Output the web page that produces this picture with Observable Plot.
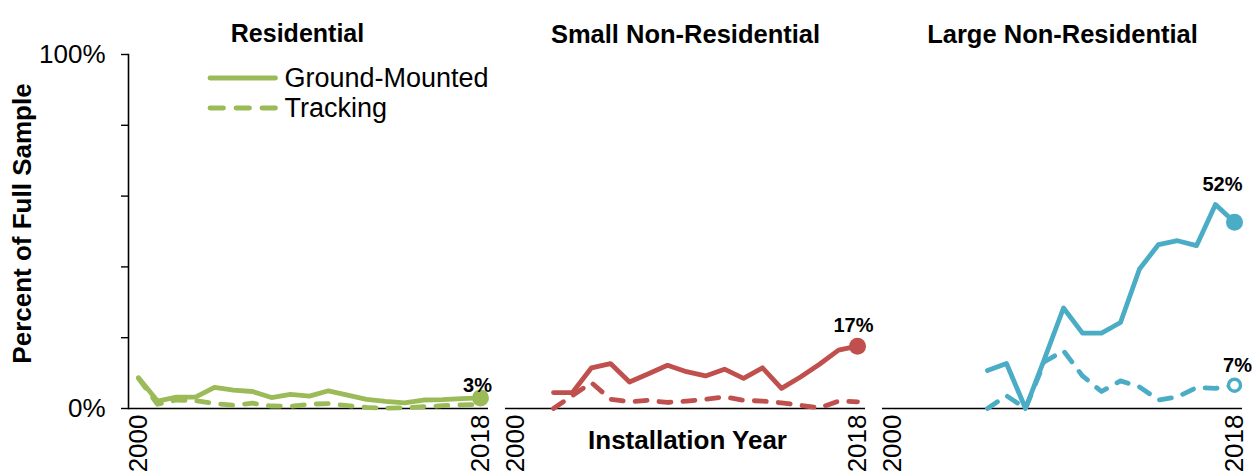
<!DOCTYPE html>
<html><head><meta charset="utf-8">
<script src="https://cdn.jsdelivr.net/npm/d3@7"></script>
<script src="https://cdn.jsdelivr.net/npm/@observablehq/plot@0.6"></script>
<style>html,body{margin:0;padding:0;background:#fff;} svg{display:block;}</style>
</head><body><div id="chart"></div>
<script>
const panels = ["Residential", "Small Non-Residential", "Large Non-Residential"];
const panelColors = ["#9BBB59", "#C0504D", "#4BACC6"];
const seriesNames = ["Ground-Mounted", "Tracking"];
const years = [2000, 2001, 2002, 2003, 2004, 2005, 2006, 2007, 2008, 2009, 2010, 2011, 2012, 2013, 2014, 2015, 2016, 2017, 2018];
const xTickYears = [2000, 2018];
const yTicks = [0, 20, 40, 60, 80, 100];
const yTickLabels = ["0%", "", "", "", "", "100%"];

// Residential: 2000-2018
const residentialGround = [8.7, 2.1, 3.2, 3.2, 6.0, 5.2, 4.8, 3.1, 4.0, 3.5, 5.0, 3.8, 2.6, 2.0, 1.6, 2.4, 2.5, 2.8, 3.0];
const residentialTracking = [8.5, 1.2, 2.4, 2.2, 1.4, 0.9, 1.5, 0.7, 0.6, 1.2, 1.4, 0.8, 0.3, 0.1, 0.2, 0.5, 0.8, 1.0, 1.2];
// Small Non-Residential: 2002-2018
const smallGround = [4.5, 4.5, 11.5, 12.7, 7.5, 9.8, 12.2, 10.4, 9.2, 11.1, 8.5, 11.5, 5.7, 8.9, 12.5, 16.5, 17.6];
const smallTracking = [0.0, 3.7, 7.3, 2.6, 1.9, 2.3, 1.7, 2.1, 2.6, 3.3, 2.3, 2.1, 1.6, 0.9, 0.2, 2.1, 1.9];
// Large Non-Residential: 2005-2018
const largeGround = [10.7, 12.7, 0.0, 14.0, 28.4, 21.3, 21.3, 24.3, 39.4, 46.3, 47.4, 46.0, 57.6, 52.6];
const largeTracking = [0.0, 3.6, 0.0, 13.2, 16.3, 9.2, 4.8, 7.8, 6.1, 2.4, 3.3, 5.9, 5.7, 6.6];

const groundEndLabels = ["3%", "17%", "52%"];
const trackingEndLabels = ["", "", "7%"];
const yAxisTitle = "Percent of Full Sample";
const xAxisTitle = "Installation Year";

function toRows(panel, type, values) {
  const ys = years.slice(years.length - values.length);
  return values.map((v, i) => ({panel, type, year: ys[i], value: v}));
}
const groundRows = [
  ...toRows(panels[0], seriesNames[0], residentialGround),
  ...toRows(panels[1], seriesNames[0], smallGround),
  ...toRows(panels[2], seriesNames[0], largeGround)
];
const trackingRows = [
  ...toRows(panels[0], seriesNames[1], residentialTracking),
  ...toRows(panels[1], seriesNames[1], smallTracking),
  ...toRows(panels[2], seriesNames[1], largeTracking)
];
const lastOf = rows => panels.map(p => rows.filter(r => r.panel === p).at(-1));
const groundEnds = lastOf(groundRows).map((r, i) => ({...r, label: groundEndLabels[i]}));
const trackingEnds = lastOf(trackingRows).map((r, i) => ({...r, label: trackingEndLabels[i]})).filter(r => r.label);

const font = "'Liberation Sans', Arial, Helvetica, sans-serif";

// legend drawn once over the first panel
const legend = Plot.text([0], {x: null, y: null, facet: "super"});
legend.render = function(index, scales, values, dimensions) {
  const g = d3.create("svg:g").attr("font-family", font);
  const x0 = dimensions.marginLeft + 82, len = 65.5;
  seriesNames.forEach((name, i) => {
    const y = dimensions.marginTop + 24 + i * 30;
    g.append("line")
      .attr("x1", x0).attr("x2", x0 + len).attr("y1", y).attr("y2", y)
      .attr("stroke", panelColors[0]).attr("stroke-width", 4.8)
      .attr("stroke-linecap", "round")
      .attr("stroke-dasharray", i ? "13.5 12.5" : null);
    g.append("text")
      .attr("x", x0 + len + 9).attr("y", y).attr("dy", "0.35em")
      .attr("text-anchor", "start")
      .attr("font-size", 27).attr("fill", "#000").text(name);
  });
  return g.node();
};

const labelOffsets = [[-3, -12], [-4, -21], [-12, -38]];

const chart = Plot.plot({
  width: 1257,
  height: 476,
  marginLeft: 128,
  marginRight: 15,
  marginTop: 54,
  marginBottom: 68,
  style: {fontFamily: font, background: "#fff", color: "#000"},
  fx: {domain: panels, paddingInner: 0.0451, paddingOuter: 0, axis: null, label: null},
  x: {domain: [1999.474, 2018.421], axis: null},
  y: {domain: [0, 100], axis: null},
  color: {domain: panels, range: panelColors},
  marks: [
    Plot.ruleY([0], {stroke: "#000", strokeWidth: 1.6}),
    Plot.frame({anchor: "left", facetAnchor: "left", stroke: "#000", strokeWidth: 1.6}),
    Plot.axisY(yTicks, {
      tickSize: 7, tickPadding: 16, strokeWidth: 1.4, fontSize: 26, label: null,
      facetAnchor: "left",
      tickFormat: d => yTickLabels[yTicks.indexOf(d)]
    }),
    Plot.axisX(xTickYears, {
      tickSize: 0, tickPadding: 6, tickRotate: -90, fontSize: 26, label: null,
      tickFormat: d => String(d)
    }),
    Plot.line(trackingRows, {
      fx: "panel", x: "year", y: "value", stroke: "panel",
      strokeWidth: 4.8, strokeDasharray: "12 12", strokeLinecap: "round", strokeLinejoin: "round"
    }),
    Plot.line(groundRows, {
      fx: "panel", x: "year", y: "value", stroke: "panel",
      strokeWidth: 4.8, strokeLinecap: "round", strokeLinejoin: "round"
    }),
    Plot.dot(trackingEnds, {
      fx: "panel", x: "year", y: "value", stroke: "panel", fill: "#fff", strokeWidth: 3.5, r: 6
    }),
    Plot.dot(groundEnds, {fx: "panel", x: "year", y: "value", fill: "panel", r: 8.5}),
    ...groundEnds.map((d, i) => Plot.text([d], {
      fx: "panel", x: "year", y: "value", text: "label",
      dx: labelOffsets[i][0], dy: labelOffsets[i][1], fontSize: 20, fontWeight: "bold", fill: "#000"
    })),
    Plot.text(trackingEnds, {
      fx: "panel", x: "year", y: "value", text: "label",
      dx: 3, dy: -20, fontSize: 20, fontWeight: "bold", fill: "#000"
    }),
    Plot.text(panels.slice(0, 1), {
      fx: d => d, text: d => d, frameAnchor: "top", dx: -11, dy: -30,
      fontSize: 25, fontWeight: "bold", fill: "#000"
    }),
    Plot.text(panels.slice(1), {
      fx: d => d, text: d => d, frameAnchor: "top", dy: -30,
      fontSize: 25.5, fontWeight: "bold", fill: "#000"
    }),
    Plot.text([yAxisTitle], {
      fx: () => panels[0], text: d => d, frameAnchor: "left", textAnchor: "middle", rotate: -90,
      dx: -106, dy: -8, fontSize: 26, fontWeight: "bold", fill: "#000"
    }),
    Plot.text([xAxisTitle], {
      fx: () => panels[1], text: d => d, frameAnchor: "bottom",
      dx: 2, dy: 40, fontSize: 26, fontWeight: "bold", fill: "#000"
    }),
    legend
  ]
});
document.getElementById("chart").appendChild(chart);
</script>
</body></html>
